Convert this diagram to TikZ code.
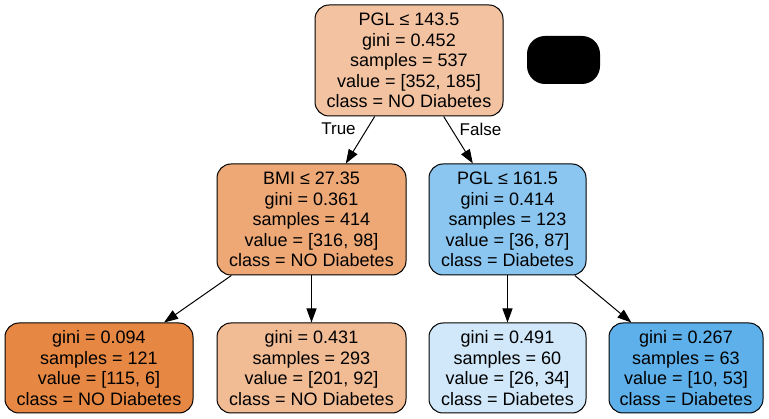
\documentclass[tikz,border=0pt]{standalone}
\usepackage{fontspec}
\setmainfont{Liberation Sans}
\usepackage{xcolor}
\usetikzlibrary{arrows.meta}
\definecolor{rootfill}{RGB}{243,195,161}
\definecolor{bmifill}{RGB}{237,168,118}
\definecolor{pglfill}{RGB}{139,198,240}
\definecolor{leafa}{RGB}{230,136,67}
\definecolor{leafb}{RGB}{241,187,148}
\definecolor{leafc}{RGB}{208,232,249}
\definecolor{leafd}{RGB}{94,176,234}

\begin{document}
\begin{tikzpicture}[
    x=1pt, y=-1pt,
    treenode/.style={rectangle, draw, rounded corners=14pt, line width=1pt, align=center, inner sep=0pt, font=\fontsize{18}{20.5}\selectfont},
    split/.style={treenode, minimum height=111pt},
    leaf/.style={treenode, minimum height=90pt},
    arrow/.style={-{Triangle[length=14pt,width=10pt]}, line width=1pt},
    edgelabel/.style={font=\fontsize{17}{20}\selectfont}
]
    \useasboundingbox (0,0) rectangle (769,419);

    \node[split, fill=rootfill, minimum width=188pt] (root) at (409,60.5) {PGL ≤ 143.5\\gini = 0.452\\samples = 537\\value = [352, 185]\\class = NO Diabetes};
    \node[fill=black, rounded corners=18pt, minimum width=73pt, minimum height=48pt] (blank) at (563.5,60) {};

    \node[split, fill=bmifill, minimum width=189pt] (bmi) at (311.5,219.5) {BMI ≤ 27.35\\gini = 0.361\\samples = 414\\value = [316, 98]\\class = NO Diabetes};
    \node[split, fill=pglfill, minimum width=157pt] (pgl) at (507.5,219.5) {PGL ≤ 161.5\\gini = 0.414\\samples = 123\\value = [36, 87]\\class = Diabetes};

    \node[leaf, fill=leafa, minimum width=188pt] (l1) at (99,368) {gini = 0.094\\samples = 121\\value = [115, 6]\\class = NO Diabetes};
    \node[leaf, fill=leafb, minimum width=189pt] (l2) at (311.5,368) {gini = 0.431\\samples = 293\\value = [201, 92]\\class = NO Diabetes};
    \node[leaf, fill=leafc, minimum width=157pt] (l3) at (507.5,368) {gini = 0.491\\samples = 60\\value = [26, 34]\\class = Diabetes};
    \node[leaf, fill=leafd, minimum width=154pt] (l4) at (686,368) {gini = 0.267\\samples = 63\\value = [10, 53]\\class = Diabetes};

    \draw[arrow] (root) -- (bmi);
    \draw[arrow] (root) -- (pgl);
    \draw[arrow] (bmi) -- (l1);
    \draw[arrow] (bmi) -- (l2);
    \draw[arrow] (pgl) -- (l3);
    \draw[arrow] (pgl) -- (l4);

    \node[edgelabel] (true) at (338.5,129) {True};
    \node[edgelabel] (false) at (480.5,129) {False};
\end{tikzpicture}
\end{document}
